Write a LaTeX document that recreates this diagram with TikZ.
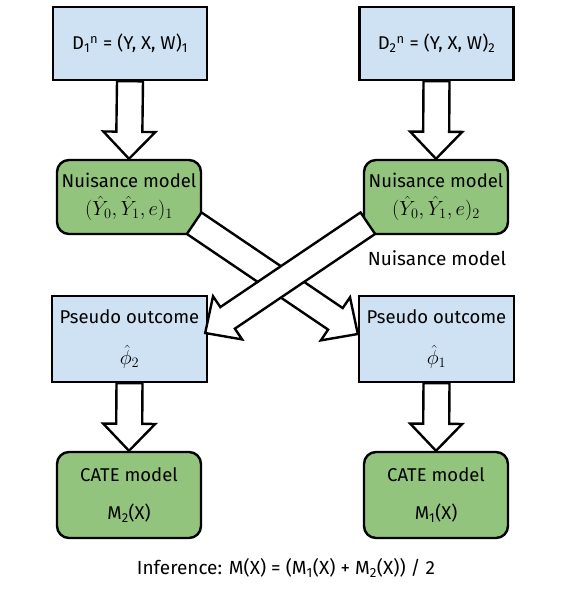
\RequirePackage{fix-cm}
\documentclass[tikz,border=0pt]{standalone}
\usepackage{fontspec}
\setmainfont{Fira Sans}
\usetikzlibrary{positioning, calc}

\newcommand{\mathbig}[1]{{\fontsize{20.5}{23}\selectfont$#1$}}

\begin{document}
\begin{tikzpicture}[
    x=1pt, y=-1pt,
    % --- Farben ---
    dataFill/.style={fill={rgb,255:red,207;green,226;blue,243}, draw=black},
    modelFill/.style={fill={rgb,255:red,147;green,196;blue,125}, draw=black},
    % --- Knotenstile ---
    base/.style={line width=2.4pt, align=center, inner sep=0pt, font=\fontsize{18.5}{21}\selectfont},
    dataset/.style={base, dataFill, minimum width=154pt, minimum height=73pt},
    nuisance/.style={base, modelFill, rounded corners=12pt, minimum width=144pt, minimum height=74pt},
    pseudo/.style={base, dataFill, minimum width=155pt, minimum height=86pt},
    cate/.style={base, modelFill, rounded corners=12pt, minimum width=144pt, minimum height=86pt},
    plain_label/.style={font=\fontsize{19}{22}\selectfont, inner sep=0pt},
    % --- Blockpfeil (Schaft 26pt, Spitze 52pt breit, 27pt lang) ---
    block_arrow/.style={line width=2.4pt, fill=white, draw=black, line join=miter,
        to path={($(\tikztostart)!13pt!90:(\tikztotarget)$)
          -- ($(\tikztotarget)!30.0pt!-25.7:(\tikztostart)$)
          -- ($(\tikztotarget)!37.5pt!-43.9:(\tikztostart)$)
          -- (\tikztotarget)
          -- ($(\tikztotarget)!37.5pt!43.9:(\tikztostart)$)
          -- ($(\tikztotarget)!30.0pt!25.7:(\tikztostart)$)
          -- ($(\tikztostart)!13pt!-90:(\tikztotarget)$)
          -- cycle}}
]
    \useasboundingbox (0,0) rectangle (581,594);

    % ===========================
    % 1. KNOTEN
    % ===========================
    \node[dataset]  (D1) at (130, 43.5) {D\textsubscript{1}\textsuperscript{n} = (Y, X, W)\textsubscript{1}};
    \node[dataset]  (D2) at (436.5, 43.5) {D\textsubscript{2}\textsuperscript{n} = (Y, X, W)\textsubscript{2}};

    \node[nuisance] (N1) at (129, 197) {Nuisance model\\[7pt]\mathbig{(\hat{Y}_0, \hat{Y}_1, e)_1}};
    \node[nuisance] (N2) at (436, 197) {Nuisance model\\[7pt]\mathbig{(\hat{Y}_0, \hat{Y}_1, e)_2}};
    \node[plain_label] (nuisLabel) at (437, 258) {Nuisance model};

    \node[pseudo]   (P2) at (129.5, 339) {Pseudo outcome\\[20pt]\mathbig{\hat{\phi}_2}};
    \node[pseudo]   (P1) at (436.5, 339) {Pseudo outcome\\[20pt]\mathbig{\hat{\phi}_1}};

    \node[cate]     (C2) at (129, 495) {CATE model\\[17pt]M\textsubscript{2}(X)};
    \node[cate]     (C1) at (436, 495) {CATE model\\[17pt]M\textsubscript{1}(X)};

    \node[plain_label] (inference) at (286, 568) {Inference: M(X) = (M\textsubscript{1}(X) + M\textsubscript{2}(X)) / 2};

    % ===========================
    % 2. BLOCKPFEILE
    % ===========================
    \draw[block_arrow] (D1.south) to (N1.north);
    \draw[block_arrow] (D2.south) to (N2.north);

    % Kreuzung: N1 -> rechts, danach N2 -> links (liegt oben)
    \draw[block_arrow] ([xshift=-8pt, yshift=12pt]N1.south east) to ([yshift=5pt]P1.west);
    \draw[block_arrow] ([xshift=5pt, yshift=12pt]N2.south west) to ([xshift=-3pt, yshift=6pt]P2.east);

    \draw[block_arrow] (P2.south) to (C2.north);
    \draw[block_arrow] (P1.south) to (C1.north);

\end{tikzpicture}
\end{document}
